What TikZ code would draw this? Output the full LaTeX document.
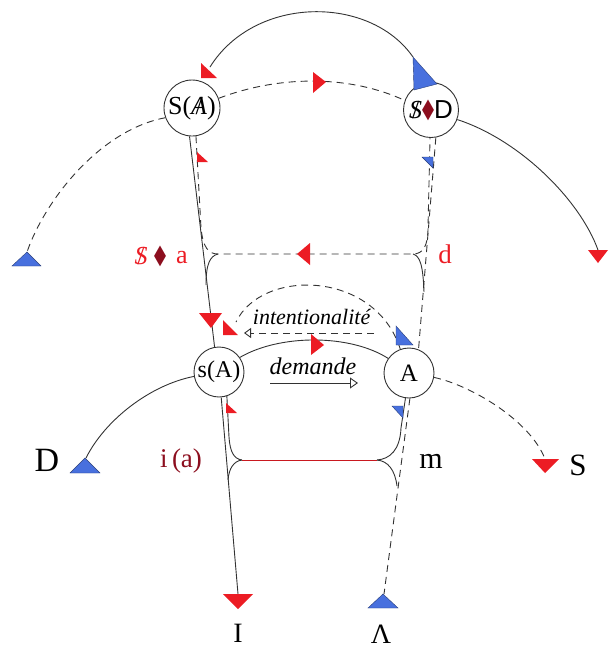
\documentclass[tikz,border=0pt]{standalone}
\usepackage{fontspec}
\setmainfont{Liberation Serif}
\setsansfont{Liberation Sans}
\newfontfamily\dejavu{DejaVu Sans}
\usetikzlibrary{arrows.meta}
\definecolor{myred}{RGB}{236,28,36}
\definecolor{myblue}{RGB}{72,112,222}
\definecolor{dred}{RGB}{140,14,30}
\definecolor{ink}{RGB}{50,50,50}
\newcommand\myBarA{\ooalign{\textit{A}\cr\hidewidth/\hidewidth}}
\newcommand\myBarS{\ooalign{\textit{S}\cr\hidewidth/\hidewidth}}
\newcommand\mydiam{\textcolor{dred}{\raisebox{0.05em}{\scalebox{0.6}[1.05]{\dejavu ◆}}}}
\newcommand\fs[1]{\fontsize{#1}{#1}\selectfont}
\begin{document}
\begin{tikzpicture}[x=1pt,y=-1pt,
  ln/.style={draw=ink, line width=0.9pt},
  dsh/.style={draw=ink, line width=0.9pt, dash pattern=on 7pt off 5pt},
  redln/.style={draw=myred!85!black, line width=0.9pt},
  circ/.style={circle, draw=ink, line width=0.9pt, fill=white, inner sep=0pt},
  rtri/.style={fill=myred},
  btri/.style={fill=myblue, draw=myblue!55!black, line width=0.4pt},
  lbl/.style={inner sep=0pt, anchor=center},
]
\useasboundingbox (0,0) rectangle (609,649);

% ---- nodes ----
\node[circ, minimum size=56pt] (SA) at (192,108) {\fs{26}S(\myBarA)};
\node[circ, minimum size=55pt] (SD) at (431,110) {\fs{26}\myBarS\mydiam\textsf{D}};
\node[circ, minimum size=50pt] (sA) at (219,372) {\fs{24}s(A)};
\node[circ, minimum size=50pt] (A)  at (409,373) {\fs{25}A};

% ---- named free ends ----
\coordinate (topS) at (413,57);
\coordinate (topE) at (210,67);
\coordinate (leftE) at (27,252);
\coordinate (rightE) at (598,250);
\coordinate (hornL) at (218,254);
\coordinate (hornR) at (413,254);
\coordinate (lowL) at (242,460);
\coordinate (lowR) at (377,460);
\coordinate (Dend) at (86,458);
\coordinate (Send) at (545,459);
\coordinate (Iend) at (238,594);
\coordinate (Lend) at (384,594);

% ---- upper level ----
\draw[ln] (topS) .. controls (370,-5) and (255,-5) .. (topE);
\draw[dsh] (SA.20) .. controls (280,75) and (350,75) .. (SD.160);
\draw[dsh] (SA.200) .. controls (100,130) and (45,200) .. (leftE);
\draw[ln] (SD.-20) .. controls (520,140) and (580,200) .. (rightE);

% verticals between levels
\draw[ln] (SA.-95) -- (sA.100);
\draw[dsh] (SA.-82) -- (201,228) .. controls (203,247) and (208,254) .. (hornL) -- (hornR)
   .. controls (423,254) and (428,246) .. (428,228) -- (SD.-92);
\draw[dsh] (SD.-80) -- (A.68);
\draw[ln] (hornL) .. controls (210,256) and (206,264) .. (206,285);
\draw[ln] (hornR) .. controls (420,256) and (423,265) .. (424,292);

% ---- middle level ----
\draw[ln] (sA.35) .. controls (280,334) and (350,334) .. (A.145);
\node[lbl] (dem) at (313,366) {\fs{24}\textit{demande}};
\coordinate (demA) at (270,383);
\coordinate (demB) at (358,383);
\draw[ln, -{Triangle[open, length=8pt, width=11pt]}] (demA) -- (demB);
\node[lbl] (intl) at (312,317) {\fs{22}\textit{intentionalité}};
\coordinate (intA) at (374,333);
\coordinate (intB) at (244,333);
\draw[dsh, -{Triangle[open, length=7pt, width=10pt]}] (intA) -- (intB);
\coordinate (arcE) at (236,322);
\draw[dsh] (A.110) .. controls (375,270) and (262,268) .. (arcE);

% ---- lower level ----
\draw[ln] (sA.190) .. controls (150,385) and (105,420) .. (Dend);
\draw[dsh] (A.-10) .. controls (470,385) and (530,420) .. (Send);
\draw[ln] (sA.-85) -- (Iend);
\draw[ln] (sA.-72) -- (229,437) .. controls (230,452) and (234,459) .. (lowL);
\draw[redln] (lowL) -- (lowR);
\draw[ln] (lowL) .. controls (234,461) and (229,468) .. (228,480);
\draw[ln] (A.-98) -- (401,428) .. controls (400,450) and (390,459) .. (lowR);
\draw[ln] (lowR) .. controls (388,461) and (395,470) .. (397,486);
\draw[dsh] (A.-88) -- (Lend);

% ---- triangles ----
\filldraw[btri] (413,57) -- (414,90) -- (437,84) -- cycle;
\fill[rtri] (201,63) -- (201,78) -- (217,78) -- cycle;
\fill[rtri] (313,72) -- (313,93) -- (326,82) -- cycle;
\filldraw[btri] (12,266) -- (41,266) -- (27,252) -- cycle;
\fill[rtri] (588,250) -- (608,250) -- (598,263) -- cycle;
\fill[rtri] (197,152) -- (197,162) -- (208,162) -- cycle;
\filldraw[btri] (422,157) -- (433,157) -- (433,168) -- cycle;
\fill[rtri] (310,243) -- (310,265) -- (297,254) -- cycle;
\fill[rtri] (199,313) -- (222,313) -- (211,328) -- cycle;
\fill[rtri] (223,320) -- (223,335) -- (238,335) -- cycle;
\filldraw[btri] (396,326) -- (396,345) -- (413,345) -- cycle;
\fill[rtri] (311,334) -- (311,355) -- (324,345) -- cycle;
\fill[rtri] (226,403) -- (226,413) -- (237,413) -- cycle;
\filldraw[btri] (392,406) -- (403,406) -- (403,418) -- cycle;
\filldraw[btri] (70,473) -- (100,473) -- (85,458) -- cycle;
\fill[rtri] (532,459) -- (559,459) -- (545,473) -- cycle;
\fill[rtri] (223,594) -- (253,594) -- (238,609) -- cycle;
\filldraw[btri] (368,608) -- (398,608) -- (383,594) -- cycle;

% ---- labels ----
\node[lbl] (lS) at (141,256) {\fs{26}\textcolor{myred}{\myBarS}};
\node[lbl] (ldia) at (160,256) {\fs{26}\mydiam};
\node[lbl] (la) at (182,258) {\fs{26}\textcolor{myred}{a}};
\node[lbl] (ld) at (445,254) {\fs{27}\textcolor{myred}{d}};
\node[lbl] (lia) at (181,461) {\fs{27}\textcolor{dred}{i\,(a)}};
\node[lbl] (lm) at (431,461) {\fs{30}m};
\node[lbl] (lD) at (47,460) {\fs{34}D};
\node[lbl] (lSS) at (578,465) {\fs{31}S};
\node[lbl] (lI) at (238,633) {\fs{28}I};
\node[lbl] (lL) at (381,634) {\fs{28}Λ};
\end{tikzpicture}
\end{document}
